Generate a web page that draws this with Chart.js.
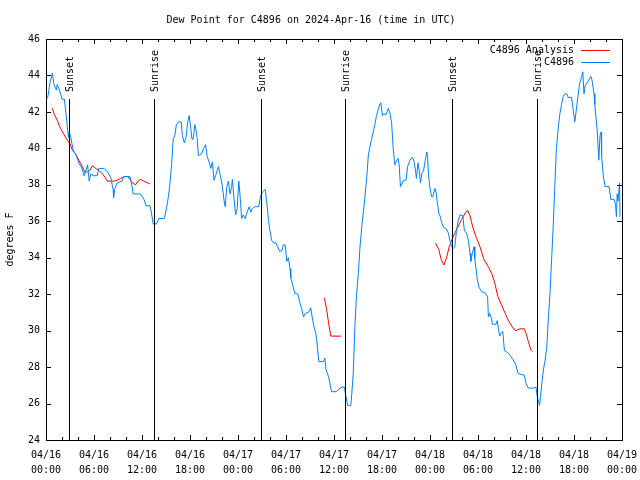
<!DOCTYPE html>
<html>
<head>
<meta charset="utf-8">
<script src="https://cdn.jsdelivr.net/npm/chart.js@4/dist/chart.umd.min.js"></script>
<style>
  html, body { margin: 0; padding: 0; background: #fff; }
</style>
</head>
<body>
<canvas id="dewChart" width="640" height="480"></canvas>
<script>
// Hours since 04/16 00:00 UTC
const dayNames = ['04/16', '04/17', '04/18', '04/19'];

// Station C4896 observations
const stationHours = [
    0.2, 0.5, 0.8, 1.0, 1.3, 1.4, 1.75, 2.0, 2.3, 2.5, 2.67, 2.8, 2.9, 3.1, 3.4, 3.8, 4.1, 4.5, 4.75, 5.0,
    5.2, 5.4, 5.6, 5.9, 6.4, 6.6, 7.25, 7.7, 8.1, 8.4, 8.45, 8.6, 8.9, 9.5, 9.7, 10.5, 10.7, 10.9, 11.8, 12.25,
    12.5, 13.0, 13.2, 13.4, 13.8, 14.1, 14.8, 15.1, 15.3, 15.5, 15.7, 15.9, 16.1, 16.3, 16.55, 16.9, 17.05, 17.3, 17.5, 17.7,
    17.9, 18.1, 18.25, 18.4, 18.6, 18.75, 18.9, 19.05, 19.45, 19.7, 19.95, 20.15, 20.4, 20.6, 20.8, 21.0, 21.2, 21.55, 21.8, 22.05,
    22.25, 22.4, 22.6, 22.8, 23.0, 23.2, 23.3, 23.5, 23.7, 23.9, 24.1, 24.3, 24.45, 24.65, 24.9, 25.1, 25.4, 25.6, 25.8, 26.1,
    26.6, 26.8, 27.05, 27.4, 27.6, 27.8, 27.95, 28.2, 28.5, 28.7, 28.95, 29.2, 29.5, 29.65, 29.9, 30.1, 30.3, 30.5, 30.6, 30.9,
    31.1, 31.5, 31.75, 31.95, 32.2, 32.4, 32.8, 33.1, 33.25, 33.5, 33.75, 33.95, 34.1, 34.7, 34.85, 35.0, 35.3, 35.7, 36.3, 36.75,
    37.0, 37.3, 37.4, 37.7, 38.1, 38.2, 38.4, 38.6, 38.8, 39.05, 39.25, 39.5, 39.7, 39.9, 40.1, 40.3, 40.5, 40.7, 40.9, 41.1,
    41.3, 41.5, 41.75, 41.85, 42.05, 42.2, 42.5, 42.8, 43.0, 43.2, 43.4, 43.6, 43.8, 44.0, 44.15, 44.3, 44.7, 45.0, 45.2, 45.5,
    45.8, 46.0, 46.2, 46.3, 46.5, 46.7, 46.8, 47.0, 47.2, 47.4, 47.6, 47.7, 47.8, 48.0, 48.2, 48.35, 48.6, 48.75, 48.9, 49.1,
    49.25, 49.45, 49.6, 49.85, 50.0, 50.3, 50.5, 50.7, 50.9, 51.1, 51.3, 51.5, 51.75, 52.1, 52.3, 52.6, 52.8, 53.0, 53.1, 53.3,
    53.5, 53.6, 53.75, 53.9, 54.1, 54.45, 54.95, 55.2, 55.3, 55.45, 55.7, 55.8, 56.25, 56.4, 56.7, 56.85, 57.1, 57.3, 57.7, 58.0,
    58.4, 58.75, 59.0, 59.8, 60.0, 60.3, 60.9, 61.25, 61.4, 61.7, 61.8, 62.05, 62.2, 62.4, 62.6, 62.8, 63.0, 63.2, 63.4, 63.6,
    63.8, 64.05, 64.25, 64.45, 64.65, 64.9, 65.1, 65.25, 65.7, 65.9, 66.1, 66.3, 66.5, 66.7, 66.95, 67.1, 67.25, 67.4, 67.8, 68.1,
    68.25, 68.5, 68.6, 68.9, 69.1, 69.25, 69.4, 69.45, 69.7, 69.9, 70.4, 70.6, 71.0, 71.2, 71.3, 71.4, 71.5, 71.7, 71.75
];
const stationDew = [
    42.75, 43.6, 44.12, 43.5, 43.2, 43.5, 43.1, 42.7, 42.7, 41.9, 41.2, 40.6, 40.9, 40.6, 39.9, 39.6, 39.2, 38.9, 38.5, 38.8,
    39.1, 38.2, 38.6, 38.5, 38.5, 38.9, 38.9, 38.7, 38.4, 37.7, 37.3, 37.8, 38.1, 38.2, 38.45, 38.45, 38.05, 37.5, 37.5, 37.2,
    36.85, 36.85, 36.4, 35.85, 35.85, 36.15, 36.15, 36.8, 37.35, 38.1, 39.1, 40.5, 40.7, 41.3, 41.45, 41.45, 40.7, 40.3, 40.6, 41.4,
    41.8, 41.1, 40.5, 40.5, 41.3, 41.0, 40.55, 39.6, 39.7, 40.0, 40.2, 39.55, 39.25, 38.9, 39.25, 38.25, 38.5, 39.0, 38.5, 37.9,
    37.15, 36.8, 37.9, 38.2, 37.5, 37.9, 38.3, 37.25, 36.35, 36.7, 38.2, 37.2, 36.15, 36.35, 36.15, 36.45, 36.8, 36.5, 36.7, 36.8,
    36.8, 37.35, 37.6, 37.75, 37.0, 36.1, 35.6, 34.95, 34.8, 34.85, 34.6, 34.35, 34.4, 34.7, 34.7, 33.8, 34.0, 33.4, 32.9, 32.4,
    32.05, 32.0, 31.5, 31.2, 30.75, 30.95, 31.0, 31.25, 30.8, 30.2, 29.8, 29.0, 28.3, 28.3, 28.5, 27.85, 27.5, 26.65, 26.65, 26.85,
    26.9, 26.9, 26.6, 25.9, 25.9, 26.4, 27.6, 30.1, 31.8, 33.2, 34.6, 35.85, 36.6, 37.5, 38.45, 39.65, 40.1, 40.5, 40.9, 41.3,
    41.75, 42.1, 42.45, 42.5, 41.8, 41.9, 41.85, 42.2, 41.9, 41.4, 40.0, 39.1, 39.3, 39.45, 39.1, 37.9, 38.25, 38.25, 39.0, 39.35,
    39.5, 39.3, 38.75, 38.35, 39.2, 38.65, 38.1, 38.65, 38.8, 39.3, 39.8, 39.55, 38.65, 37.8, 37.35, 37.35, 37.8, 37.6, 37.1, 36.45,
    36.3, 35.95, 35.75, 35.6, 35.6, 35.35, 34.9, 34.6, 34.5, 34.6, 35.45, 36.0, 36.35, 36.3, 35.5, 35.3, 34.95, 34.25, 33.8, 34.25,
    34.6, 33.95, 33.4, 32.85, 32.4, 32.15, 32.05, 31.85, 30.75, 30.95, 30.65, 30.35, 30.35, 30.55, 29.7, 29.85, 29.95, 28.9, 28.8, 28.65,
    28.4, 28.1, 27.65, 27.55, 27.1, 26.85, 26.85, 26.9, 26.4, 25.9, 26.3, 27.4, 27.9, 28.4, 29.1, 30.7, 32.05, 33.9, 35.7, 37.9,
    40.0, 41.2, 41.95, 42.4, 42.85, 43.0, 43.0, 42.8, 42.8, 42.1, 41.45, 42.15, 42.85, 43.55, 43.9, 44.2, 43.0, 43.45, 43.7, 43.95,
    43.75, 43.0, 42.4, 41.0, 39.35, 40.7, 40.9, 39.6, 38.35, 37.9, 37.9, 37.2, 37.2, 36.9, 36.25, 37.5, 37.1, 38.1, 36.25
];

// Analysis series (null = gap)
const analysisHours = [
    0.8, 1.0, 1.4, 1.8, 2.25, 2.67, 3.0, 3.3, 3.7, 4.1, 4.55, 4.85, 5.2, 5.5, 5.8, 6.2, 6.6, 7.05, 7.4, 7.65,
    8.1, 8.5, 8.9, 9.3, 9.75, 10.2, 10.5, 10.8, 11.2, 11.5, 11.8, 12.25, 12.7, 13.0,
    20.0,
    34.8, 35.1, 35.3, 35.6, 36.9,
    42.0,
    48.7, 49.1, 49.4, 49.75, 50.1, 50.4, 50.8, 51.1, 51.5, 51.95, 52.4, 52.7, 53.0, 53.4, 53.8, 54.25, 54.75, 55.3, 55.8, 56.1,
    56.5, 56.95, 57.4, 57.8, 58.3, 58.7, 59.25, 59.8, 60.0, 60.3, 60.6, 60.8
];
const analysisDew = [
    42.2, 41.9, 41.55, 41.1, 40.75, 40.45, 40.25, 39.9, 39.7, 39.35, 39.0, 38.7, 38.7, 38.8, 39.05, 38.9, 38.8, 38.6, 38.4, 38.2,
    38.2, 38.2, 38.25, 38.35, 38.45, 38.45, 38.3, 38.1, 38.0, 38.2, 38.3, 38.2, 38.1, 38.05,
    null,
    31.8, 31.1, 30.5, 29.7, 29.7,
    null,
    34.8, 34.45, 33.9, 33.6, 34.05, 34.6, 35.05, 35.35, 35.7, 36.1, 36.45, 36.6, 36.3, 35.6, 35.1, 34.6, 33.9, 33.5, 33.05, 32.6,
    31.85, 31.4, 30.95, 30.55, 30.2, 30.0, 30.1, 30.1, 29.85, 29.4, 28.95, 28.85
];

const sunHours = [2.9, 13.5, 26.9, 37.4, 50.8, 61.4];
const sunLabels = ['Sunset', 'Sunrise', 'Sunset', 'Sunrise', 'Sunset', 'Sunrise'];

const toPoints = (xs, ys) => xs.map((x, i) => ({ x: x, y: ys[i] }));
const pad2 = (n) => String(n).padStart(2, '0');

Chart.defaults.font.family = "'DejaVu Sans Mono', monospace";
Chart.defaults.font.size = 10;
Chart.defaults.color = '#000';

// Cadre, graduations vers l'interieur, lignes lever/coucher, legende
const gnuplotLook = {
    id: 'gnuplotLook',
    afterDraw(chart) {
        const ctx = chart.ctx;
        const area = chart.chartArea;
        const xs = chart.scales.x;
        const ys = chart.scales.y;
        ctx.save();
        ctx.strokeStyle = '#000';
        ctx.lineWidth = 1;
        ctx.strokeRect(Math.round(area.left) + 0.5, Math.round(area.top) + 0.5,
            Math.round(area.right - area.left), Math.round(area.bottom - area.top));

        ctx.beginPath();
        for (let h = 0; h <= 72; h += 2) {
            const px = Math.round(xs.getPixelForValue(h)) + 0.5;
            const len = h % 6 === 0 ? 5 : 3;
            ctx.moveTo(px, area.bottom); ctx.lineTo(px, area.bottom - len);
            ctx.moveTo(px, area.top); ctx.lineTo(px, area.top + len);
        }
        ys.ticks.forEach(t => {
            const py = Math.round(ys.getPixelForValue(t.value)) + 0.5;
            ctx.moveTo(area.left, py); ctx.lineTo(area.left + 5, py);
            ctx.moveTo(area.right, py); ctx.lineTo(area.right - 5, py);
        });
        ctx.stroke();

        // Lever / coucher du soleil
        const lineTop = area.top + 60;
        ctx.fillStyle = '#000';
        ctx.font = "10px 'DejaVu Sans Mono', monospace";
        sunHours.forEach((h, i) => {
            const px = Math.round(xs.getPixelForValue(h)) + 0.5;
            ctx.beginPath();
            ctx.moveTo(px, lineTop);
            ctx.lineTo(px, area.bottom);
            ctx.stroke();
            ctx.save();
            ctx.translate(px + 1, lineTop - 7);
            ctx.rotate(-Math.PI / 2);
            ctx.textAlign = 'left';
            ctx.textBaseline = 'middle';
            ctx.fillText(sunLabels[i], 0, 0);
            ctx.restore();
        });

        // Legende en haut a droite
        ctx.textAlign = 'right';
        ctx.textBaseline = 'middle';
        chart.data.datasets.forEach((ds, i) => {
            const y = area.top + 11 + i * 12;
            ctx.fillStyle = '#000';
            ctx.fillText(ds.label, area.right - 48, y);
            ctx.strokeStyle = ds.borderColor;
            ctx.beginPath();
            ctx.moveTo(area.right - 41, Math.round(y) + 0.5);
            ctx.lineTo(area.right - 12, Math.round(y) + 0.5);
            ctx.stroke();
        });
        ctx.restore();
    }
};

const dewChart = new Chart(document.getElementById('dewChart'), {
    type: 'line',
    data: {
        datasets: [{
            label: 'C4896 Analysis',
            data: toPoints(analysisHours, analysisDew),
            borderColor: '#ff0000',
            borderWidth: 1,
            pointRadius: 0,
            spanGaps: false,
            tension: 0,
            order: 1
        }, {
            label: 'C4896',
            data: toPoints(stationHours, stationDew),
            borderColor: '#0080ff',
            borderWidth: 1,
            pointRadius: 0,
            tension: 0,
            order: 0
        }]
    },
    options: {
        responsive: false,
        animation: false,
        layout: { padding: { left: 0, right: 18, top: 0, bottom: 0 } },
        plugins: {
            legend: { display: false },
            tooltip: { enabled: false },
            title: {
                display: true,
                text: 'Dew Point for C4896 on 2024-Apr-16 (time in UTC)',
                font: { size: 10, weight: 'normal' },
                padding: { top: 14, bottom: 13 }
            }
        },
        scales: {
            x: {
                type: 'linear',
                min: 0,
                max: 72,
                grid: { display: false, drawTicks: false },
                border: { display: false },
                ticks: {
                    stepSize: 6,
                    autoSkip: false,
                    maxRotation: 0,
                    padding: 8,
                    font: { size: 10, lineHeight: 1.5 },
                    callback: (v) => [dayNames[Math.floor(v / 24)], pad2(v % 24) + ':00']
                },
                afterFit: (s) => {
                    s.height = 40;
                    s.paddingLeft = 0;
                    s.paddingRight = 0;
                }
            },
            y: {
                min: 24,
                max: 46,
                grid: { display: false, drawTicks: false },
                border: { display: false },
                ticks: { stepSize: 2, padding: 6 },
                title: { display: true, text: 'degrees F', padding: { top: 4, bottom: 0 } },
                afterFit: (s) => { s.width = 46; }
            }
        }
    },
    plugins: [gnuplotLook]
});
</script>
</body>
</html>
